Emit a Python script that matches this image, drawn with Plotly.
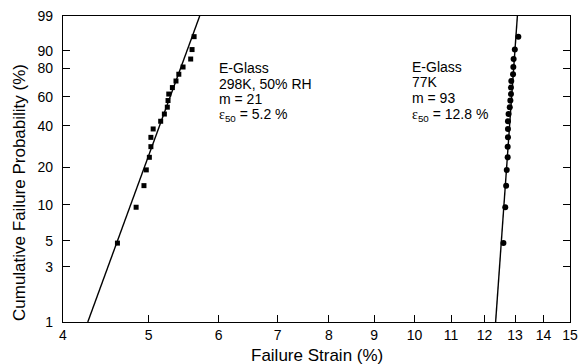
import numpy as np
import plotly.graph_objects as go

# ---- data ----
prob_pct = [4.76, 9.52, 14.29, 19.05, 23.81, 28.57, 33.33, 38.10, 42.86, 47.62,
            52.38, 57.14, 61.90, 66.67, 71.43, 76.19, 80.95, 85.71, 90.48, 95.24]
strain_298K = [4.61, 4.84, 4.94, 4.97, 5.01, 5.03, 5.03, 5.06, 5.16, 5.21,
               5.25, 5.26, 5.27, 5.32, 5.37, 5.41, 5.47, 5.58, 5.60, 5.63]
strain_77K = [12.61, 12.67, 12.70, 12.72, 12.75, 12.75, 12.76, 12.76, 12.76, 12.78,
              12.82, 12.84, 12.86, 12.86, 12.87, 12.93, 12.94, 12.95, 12.99, 13.11]
# Weibull fit lines (modulus, median strain) as drawn
fit_298K = (21.0, 5.22)
fit_77K = (108.0, 12.85)
x_ticks = [4, 5, 6, 7, 8, 9, 10, 11, 12, 13, 14, 15]
y_ticks_pct = [1, 3, 5, 10, 20, 40, 60, 80, 90, 99]

def weib(p_pct):
    p = np.asarray(p_pct, dtype=float) / 100.0
    return np.log(-np.log(1.0 - p))

def fit_line(m, e50):
    pp = np.array([1.0, 99.0])
    Y = weib(pp)
    y50 = np.log(np.log(2.0))
    eps = np.exp(np.log(e50) + (Y - y50) / m)
    return eps, Y

FONT = "Arial, Liberation Sans, sans-serif"
fig = go.Figure()

for (m, e50) in (fit_298K, fit_77K):
    ex, ey = fit_line(m, e50)
    fig.add_trace(go.Scatter(x=ex, y=ey, mode="lines",
                             line=dict(color="black", width=1.4),
                             showlegend=False, hoverinfo="skip"))

fig.add_trace(go.Scatter(x=strain_298K, y=weib(prob_pct), mode="markers",
                         marker=dict(symbol="square", size=5, color="black"),
                         showlegend=False))
fig.add_trace(go.Scatter(x=strain_77K, y=weib(prob_pct), mode="markers",
                         marker=dict(symbol="circle", size=6, color="black"),
                         showlegend=False))

L, R, T, B = 63, 570, 16, 322
W, H = 579, 364

def px(xp):
    return (xp - L) / (R - L)

def py(yp):
    return (B - yp) / (B - T)

EPS = "<span style='font-family:Liberation Serif, Times New Roman, serif'>ε</span>"
ann = []
left_lines = ["E-Glass", "298K, 50% RH", "m = 21", EPS + "<sub>50</sub> = 5.2 %"]
right_lines = ["E-Glass", "77K", "m = 93", EPS + "<sub>50</sub> = 12.8 %"]
ycs = [68.3, 83.8, 99.0, 115.5]
for txt, yc in zip(left_lines, ycs):
    ann.append(dict(text=txt, x=px(216.5), y=py(yc), xref="paper", yref="paper",
                    xanchor="left", yanchor="middle", showarrow=False,
                    font=dict(family=FONT, size=14, color="black")))
ycs2 = [66.7, 82.3, 98.3, 114.8]
for txt, yc in zip(right_lines, ycs2):
    ann.append(dict(text=txt, x=px(410), y=py(yc), xref="paper", yref="paper",
                    xanchor="left", yanchor="middle", showarrow=False,
                    font=dict(family=FONT, size=14, color="black")))

ann.append(dict(text="Failure Strain (%)", x=px(317), y=py(355), xref="paper", yref="paper",
                xanchor="center", yanchor="middle", showarrow=False,
                font=dict(family=FONT, size=17, color="black")))
ann.append(dict(text="Cumulative Failure Probability (%)", x=px(20), y=py(193),
                xref="paper", yref="paper", textangle=-90,
                xanchor="center", yanchor="middle", showarrow=False,
                font=dict(family=FONT, size=17, color="black")))

fig.update_layout(
    width=W, height=H,
    margin=dict(l=L, r=W - R, t=T, b=H - B, pad=0, autoexpand=False),
    paper_bgcolor="white", plot_bgcolor="white",
    annotations=ann,
    font=dict(family=FONT, size=13, color="black"),
    xaxis=dict(type="log", range=[np.log10(4), np.log10(15)], automargin=False,
               tickvals=x_ticks, ticktext=[str(v) for v in x_ticks],
               ticks="inside", ticklen=7, tickwidth=1.2, tickcolor="black",
               showline=True, linecolor="black", linewidth=1.4, mirror=True,
               showgrid=False, zeroline=False,
               tickfont=dict(family=FONT, size=14, color="black")),
    yaxis=dict(range=[float(weib(1.0)), float(weib(99.0))], automargin=False,
               tickvals=list(weib(y_ticks_pct)), ticktext=[str(v) for v in y_ticks_pct],
               ticks="inside", ticklen=7, tickwidth=1.2, tickcolor="black",
               showline=True, linecolor="black", linewidth=1.4, mirror="ticks",
               showgrid=False, zeroline=False, ticklabelstandoff=6,
               tickfont=dict(family=FONT, size=14, color="black")),
)

fig.write_html("out.html")
